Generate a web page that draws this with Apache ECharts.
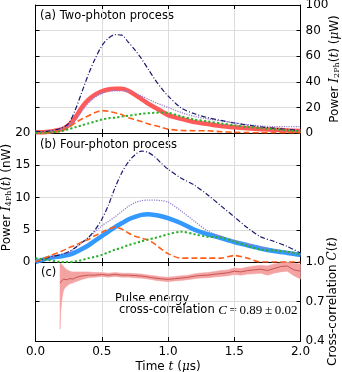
<!DOCTYPE html>
<html>
<head>
<meta charset="utf-8">
<script src="https://cdn.jsdelivr.net/npm/echarts@6/dist/echarts.min.js"></script>
<style>
html,body{margin:0;padding:0;background:#fff;}
#c{width:342px;height:372px;}
</style>
</head>
<body>
<div id="c"></div>
<script>
// ---- time grid (μs) for panels (a) and (b)
var timeUs = [0,0.1,0.2,0.25,0.3,0.35,0.4,0.45,0.5,0.55,0.6,0.65,0.7,0.75,0.8,0.85,0.9,0.95,1.0,1.1,1.2,1.3,1.4,1.5,1.6,1.7,1.8,1.9,2.0];

// ---- panel (a): two-photon power (μW)
var a_navy   = [1,1.5,4,7.5,18,32,46,58,68,74,76.8,76.5,71,65,58,50,42,35,29,19.5,15,12,9.8,7.8,6.2,4.8,3.8,2.8,2];
var a_red    = [0.5,1,3,6,12,20,26,30,32.5,34,34.5,34.5,33,30,26.5,23,20,17,14,11,8.5,7,5.5,4.5,3.7,3,2.5,2,1.5];
var a_purple = [1,1.5,3,5.5,10,17,23.5,28,31,32.5,33,33,32.5,31,29,26.5,24,22,20,16,13,11,9.5,8,6.5,5.5,5,5,5];
var a_orange = [0,0.3,2,4.5,8,11,13.5,16,17.5,17,15.8,14.5,12,10.5,9,7.2,5.8,4.5,3,2,1.8,1.7,1,0.5,0.3,0.2,0.2,0.2,0.2];
var a_green  = [0,0.3,1.5,3,4.5,6,7.5,9,10.5,11.5,12,12.8,13.5,14.2,15,15.5,15.8,16,15.8,13,10.5,9,7.5,6,4.8,3.8,3,2,1.2];

// ---- panel (b): four-photon power (nW)
var b_navy   = [0,0.7,1.2,1.6,2.2,3,3.8,5,6.6,8.8,11.5,13.8,15.5,16.6,17.2,17,16.3,15.3,14.4,13,11.9,10.4,8.7,7,5.3,3.9,3.2,2.4,1.4];
var b_blue   = [0,0.6,0.9,1.1,1.5,2,2.6,3.3,4,4.7,5.4,6,6.6,7,7.3,7.4,7.3,7.1,6.8,6,5,4.3,3.7,3.1,2.6,2.1,1.7,1.4,1.1];
var b_purple = [0,0.6,1.2,1.5,2.2,3,3.8,4.7,5.6,6.3,7,7.8,8.6,9.2,9.5,9.6,9.6,9.5,9.3,7.9,6.3,4.8,4.0,3.3,2.8,2.3,1.9,1.5,1.2];
var b_orange = [0,0.9,1.7,2.2,2.6,3.1,3.5,4.1,4.6,5.1,5.4,5.1,4.5,4,3.7,3.4,2.8,2,1.3,0.6,0.6,0.6,0.6,1.0,0.6,0,0,0,0];
var b_green  = [0.6,0.3,0,0,0.1,0.3,0.6,0.8,1.1,1.5,1.9,2.2,2.6,2.9,3.2,3.5,3.7,4,4.3,4.7,4.3,3.9,3.8,3.2,2.5,1.9,1.8,1.6,1.2];

// ---- panel (c): cross-correlation
var c_time = [0.185,0.19,0.2,0.21,0.22,0.24,0.26,0.28,0.3,0.33,0.36,0.4,0.45,0.5,0.55,0.6,0.65,0.7,0.75,0.8,0.85,0.9,0.95,1.0,1.05,1.1,1.15,1.2,1.25,1.3,1.35,1.4,1.45,1.5,1.55,1.6,1.65,1.7,1.75,1.8,1.85,1.9,1.95,2.0];
var c_val  = [0.84,0.83,0.85,0.87,0.86,0.865,0.875,0.87,0.88,0.89,0.895,0.90,0.90,0.905,0.90,0.905,0.90,0.90,0.897,0.893,0.886,0.878,0.872,0.868,0.873,0.878,0.884,0.892,0.898,0.90,0.907,0.912,0.918,0.93,0.925,0.935,0.94,0.945,0.935,0.95,0.965,0.97,0.94,0.93];
var c_low  = [0.49,0.62,0.72,0.78,0.80,0.82,0.835,0.84,0.85,0.86,0.87,0.88,0.885,0.89,0.885,0.89,0.885,0.885,0.88,0.877,0.87,0.862,0.855,0.85,0.856,0.86,0.866,0.873,0.878,0.88,0.886,0.89,0.895,0.905,0.90,0.908,0.91,0.915,0.90,0.915,0.925,0.93,0.895,0.87];
var c_high = [0.99,0.99,0.98,0.97,0.955,0.94,0.93,0.925,0.925,0.925,0.925,0.925,0.92,0.92,0.915,0.92,0.915,0.915,0.912,0.908,0.902,0.895,0.888,0.885,0.89,0.895,0.90,0.91,0.917,0.92,0.928,0.935,0.94,0.955,0.95,0.962,0.97,0.975,0.97,0.985,0.995,1.0,0.99,0.985];

// ---- ticks
var xTicks = {min:0, max:2, interval:0.5};
var aTicks = {min:0, max:100, interval:20};
var bTicks = {min:0, max:20, interval:5};
var cTicks = {min:0.4, max:1.0, interval:0.3};

function zip(t, v){ return t.map(function(x,i){ return [x, v[i]]; }); }

var FONT = 'DejaVu Sans';
var L = 35.5, R = 41.5;
var gridLine = {show:true, lineStyle:{color:'#dcdcdc', width:1}};
var blackLine = {show:true, onZero:false, lineStyle:{color:'#000', width:1}};
var tickIn = {show:true, inside:true, length:4, lineStyle:{color:'#000'}};
var lbl = {color:'#000', fontFamily:FONT, fontSize:12, margin:5, showMinLabel:true, showMaxLabel:true, hideOverlap:false};

function xAx(g, pos, showLbl, split){
  return {gridIndex:g, type:'value', position:pos, min:xTicks.min, max:xTicks.max, interval:xTicks.interval,
    axisLine:blackLine, axisTick:tickIn, splitLine: split ? gridLine : {show:false},
    axisLabel: showLbl ? Object.assign({}, lbl, {formatter:function(v){return v.toFixed(1);}}) : {show:false}};
}
function yAx(g, pos, tk, showLbl, split, fmt){
  return {gridIndex:g, type:'value', position:pos, min:tk.min, max:tk.max, interval:tk.interval,
    axisLine:blackLine, axisTick:tickIn, splitLine: split ? gridLine : {show:false},
    axisLabel: showLbl ? Object.assign({}, lbl, fmt ? {formatter:fmt} : {}) : {show:false}};
}
var richName = {
  a:{fontFamily:FONT, fontSize:12, color:'#000'},
  i:{fontFamily:'DejaVu Serif', fontStyle:'italic', fontSize:12, color:'#000'},
  s:{fontFamily:'DejaVu Serif', fontSize:8, color:'#000', verticalAlign:'bottom', lineHeight:8}
};
function setName(ax, name, gap){
  ax.name = name; ax.nameLocation = 'middle'; ax.nameGap = gap;
  ax.nameMoveOverlap = false;
  ax.nameTextStyle = {rich:richName};
}

var yA = yAx(0,'right',aTicks,true,true);
setName(yA, '{a|Power }{i|I}{s|2Ph}{a|(}{i|t}{a|) (}{i|μ}{a|W)}', 28); yA.nameRotate = 90;

var yB = yAx(1,'left',bTicks,true,true);
setName(yB, '{a|Power }{i|I}{s|4Ph}{a|(}{i|t}{a|) (nW)}', 23); yB.nameRotate = 90;

var yC = yAx(2,'right',cTicks,true,true,function(v){return v.toFixed(1);});
setName(yC, '{a|Cross-correlation }{i|C}{a|(}{i|t}{a|)}', 26); yC.nameRotate = 90;

var xC = xAx(2,'bottom',true,true);
setName(xC, '{a|Time }{i|t}{a| (}{i|μ}{a|s)}', 20);

var navyStyle   = {color:'#1a1a6e', width:1.2, type:[5,2,1,2]};
var purpleStyle = {color:'#9a80d0', width:1.3, type:[1.2,1.2]};
var orangeStyle = {color:'#ff5e1a', width:1.6, type:[6,3]};
var greenStyle  = {color:'#2ab02a', width:2, type:[2.2,2.2]};

function ln(xi, yi, t, v, style, z){
  return {type:'line', xAxisIndex:xi, yAxisIndex:yi, data:zip(t,v), showSymbol:false, symbol:'none',
    smooth:0.3, lineStyle:Object.assign({}, style), z:z||2, silent:true};
}

// band polygon built from c_low/c_high through the axis scale
var bandSeries = {
  type:'custom', xAxisIndex:2, yAxisIndex:4, silent:true, z:1,
  data:[[c_time[0], c_low[0]]],
  renderItem:function(params, api){
    var pts = [];
    for (var i=0;i<c_time.length;i++) pts.push(api.coord([c_time[i], c_high[i]]));
    for (var j=c_time.length-1;j>=0;j--) pts.push(api.coord([c_time[j], c_low[j]]));
    return {type:'polygon', shape:{points:pts}, style:{fill:'#f4a3a3', stroke:'#f4a3a3', lineWidth:0.5}};
  }
};

var option = {
  animation:false,
  backgroundColor:'#fff',
  grid:[
    {left:L, right:R, top:5, height:128, outerBoundsMode:'none', containLabel:false},
    {left:L, right:R, top:133, height:129, outerBoundsMode:'none', containLabel:false},
    {left:L, right:R, top:262, height:79, outerBoundsMode:'none', containLabel:false}
  ],
  xAxis:[
    xAx(0,'bottom',false,true), xAx(1,'bottom',false,true), xC,
    xAx(0,'top',false,false), xAx(1,'top',false,false), xAx(2,'top',false,false)
  ],
  yAxis:[
    yA, yAx(0,'left',aTicks,false,false),
    yB, yAx(1,'right',bTicks,false,false),
    yC, yAx(2,'left',cTicks,false,false)
  ],
  series:[
    ln(0,0,timeUs,a_red,{color:'#ff5a5a', width:4.5},1),
    ln(0,0,timeUs,a_purple,purpleStyle,3),
    ln(0,0,timeUs,a_navy,navyStyle,3),
    ln(0,0,timeUs,a_orange,orangeStyle,3),
    ln(0,0,timeUs,a_green,greenStyle,3),

    ln(1,2,timeUs,b_blue,{color:'#3399ff', width:4.5},1),
    ln(1,2,timeUs,b_purple,purpleStyle,3),
    ln(1,2,timeUs,b_navy,navyStyle,3),
    ln(1,2,timeUs,b_orange,orangeStyle,3),
    ln(1,2,timeUs,b_green,greenStyle,3),

    bandSeries,
    {type:'line', xAxisIndex:2, yAxisIndex:4, data:zip(c_time,c_val), showSymbol:false, symbol:'none',
      lineStyle:{color:'#c85555', width:1}, silent:true, z:2}
  ],
  graphic:[
    {type:'text', left:40, top:10, style:{text:'(a) Two-photon process', fontFamily:FONT, fontSize:11.5, fill:'#000'}},
    {type:'text', left:40, top:139, style:{text:'(b) Four-photon process', fontFamily:FONT, fontSize:11.5, fill:'#000'}},
    {type:'text', left:41, top:267, style:{text:'(c)', fontFamily:FONT, fontSize:11.5, fill:'#000'}},
    {type:'text', left:115, top:293, style:{text:'Pulse energy', fontFamily:FONT, fontSize:11.5, fill:'#000'}},
    {type:'text', left:119, top:304, style:{
      text:'{a|cross-correlation }{i|C}{n|\u2009=\u20090.89\u2009±\u20090.02}',
      rich:{
        a:{fontFamily:FONT, fontSize:11.5, fill:'#000'},
        i:{fontFamily:'Liberation Serif', fontStyle:'italic', fontSize:13, fill:'#000'},
        n:{fontFamily:'Liberation Serif', fontSize:13, fill:'#000'}
      }}}
  ]
};

var chart = echarts.init(document.getElementById('c'), null, {renderer:'canvas'});
chart.setOption(option);
</script>
</body>
</html>
